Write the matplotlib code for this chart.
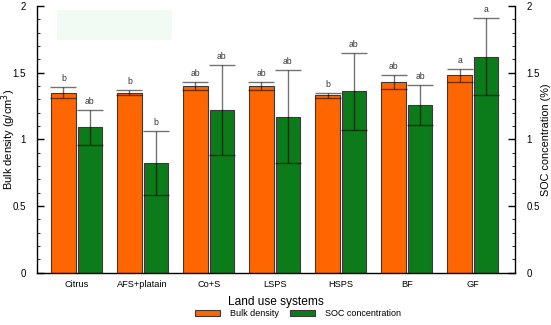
import matplotlib
matplotlib.use("Agg")
import matplotlib.pyplot as plt
import matplotlib.patches as mpatches
from matplotlib.ticker import MultipleLocator
import numpy as np

plt.rcParams['font.family'] = ['Liberation Sans', 'DejaVu Sans']

categories = ["Citrus", "AFS+platain", "Co+S", "LSPS", "HSPS", "BF", "GF"]
bulk_density = [1.35, 1.35, 1.40, 1.40, 1.33, 1.43, 1.48]
bulk_sd = [0.04, 0.02, 0.03, 0.03, 0.02, 0.05, 0.05]
soc = [1.09, 0.82, 1.22, 1.17, 1.36, 1.26, 1.62]
soc_sd = [0.13, 0.24, 0.34, 0.35, 0.29, 0.15, 0.29]
bulk_letters = ["b", "b", "ab", "ab", "b", "ab", "a"]
soc_letters = ["ab", "b", "ab", "ab", "ab", "ab", "a"]

orange = "#FF6600"
green = "#0C7C1A"

fig = plt.figure(figsize=(5.51, 3.25), dpi=100)
ax = fig.add_axes([0.0672, 0.161, 0.8675, 0.8205])

# faint background rectangle
ax.add_patch(mpatches.Rectangle((0.042, 0.8725), 0.24, 0.1125, transform=ax.transAxes,
                                facecolor="#f2faf4", edgecolor="none", zorder=0))

x = np.arange(len(categories))
w = 0.37
off = 0.2
ax.bar(x - off, bulk_density, w, color=orange, edgecolor="#3a3a3a", linewidth=0.8, zorder=2)
ax.bar(x + off, soc, w, color=green, edgecolor="#3a3a3a", linewidth=0.8, zorder=2)
ekw = dict(fmt="none", ecolor="black", alpha=0.55, elinewidth=1.0, capsize=9.5, capthick=1.0, zorder=3)
ax.errorbar(x - off, bulk_density, yerr=bulk_sd, **ekw)
ax.errorbar(x + off, soc, yerr=soc_sd, **ekw)

for i in range(len(categories)):
    ax.text(x[i] - off, bulk_density[i] + bulk_sd[i] + 0.03, bulk_letters[i],
            ha="center", va="bottom", fontsize=6.2, color="#333333")
    ax.text(x[i] + off, soc[i] + soc_sd[i] + 0.03, soc_letters[i],
            ha="center", va="bottom", fontsize=6.2, color="#333333")

ax.set_xlim(-0.6, 6.64)
ax.set_ylim(0, 2)
ax.set_xticks(x)
ax.set_xticklabels(categories, fontsize=6.6)
ax.tick_params(axis="x", length=0, pad=5)
ax.yaxis.set_major_locator(MultipleLocator(0.5))
ax.yaxis.set_minor_locator(MultipleLocator(0.1))
ax.set_yticks([0, 0.5, 1, 1.5, 2])
ax.set_yticklabels(["0", "0.5", "1", "1.5", "2"], fontsize=7)
ax.tick_params(axis="y", which="major", direction="in", length=5, width=1.0, pad=8)
ax.tick_params(axis="y", which="minor", direction="in", length=2.5, width=0.6)
ax.spines["top"].set_visible(False)
ax.spines["right"].set_visible(False)
for s in ["left", "bottom"]:
    ax.spines[s].set_linewidth(1.0)
ax.set_ylabel("Bulk density (g/cm$^3$)", fontsize=8.0, va="center")
ax.yaxis.set_label_coords(-0.059, 0.5)
ax.set_xlabel("Land use systems", fontsize=8.6, labelpad=5)

ax2 = ax.twinx()
ax2.set_ylim(0, 2)
ax2.yaxis.set_major_locator(MultipleLocator(0.5))
ax2.yaxis.set_minor_locator(MultipleLocator(0.1))
ax2.set_yticks([0, 0.5, 1, 1.5, 2])
ax2.set_yticklabels(["0", "0.5", "1", "1.5", "2"], fontsize=7)
ax2.tick_params(axis="y", which="major", direction="in", length=5, width=1.0, pad=8)
ax2.tick_params(axis="y", which="minor", direction="in", length=2.5, width=0.6)
for s in ["top", "left", "bottom"]:
    ax2.spines[s].set_visible(False)
ax2.spines["right"].set_linewidth(1.0)
ax2.set_ylabel("SOC concentration (%)", fontsize=7.8, va="center", rotation=90)
ax2.yaxis.set_label_coords(1.064, 0.5)

handles = [mpatches.Patch(facecolor=orange, edgecolor="#3a3a3a", linewidth=0.8, label="Bulk density"),
           mpatches.Patch(facecolor=green, edgecolor="#3a3a3a", linewidth=0.8, label="SOC concentration")]
fig.legend(handles=handles, loc="center", bbox_to_anchor=(0.541, 0.034), ncol=2, frameon=False,
           fontsize=6.5, handlelength=2.77, handleheight=0.7, columnspacing=1.2, handletextpad=1.1)

fig.savefig("out.png", dpi=100)
